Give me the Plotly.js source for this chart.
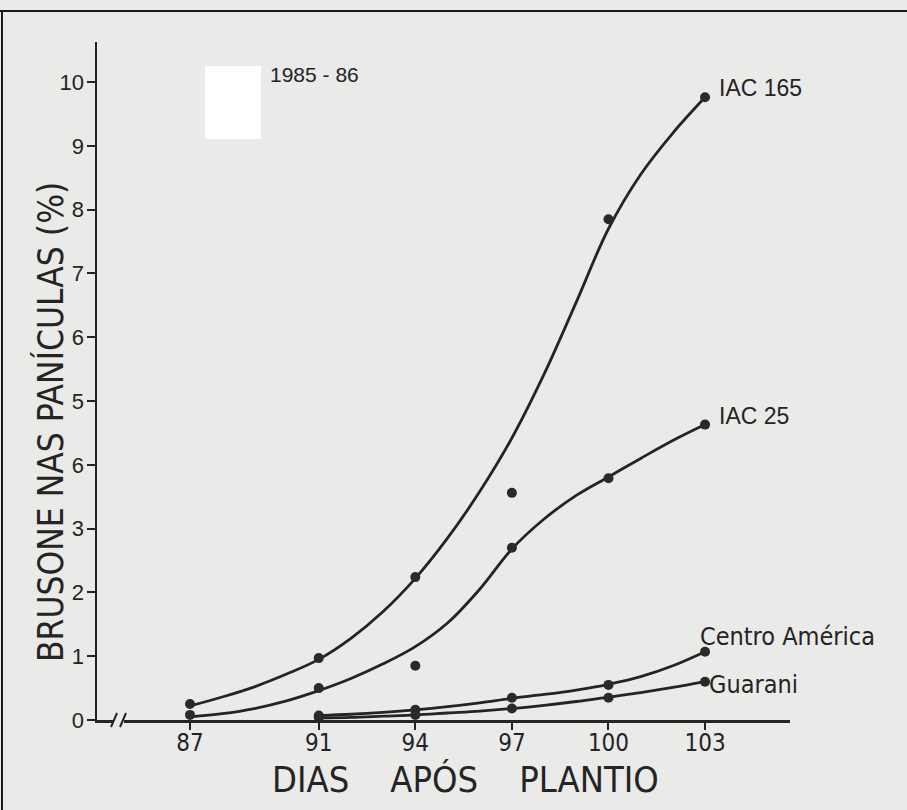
<!DOCTYPE html>
<html>
<head>
<meta charset="utf-8">
<script src="https://cdn.plot.ly/plotly-3.0.1.min.js"></script>
<style>
  html, body { margin: 0; padding: 0; background: #eaeae8; }
  #chart { width: 907px; height: 810px; }
</style>
</head>
<body>
<div id="chart"></div>
<script>
// ---- data ----
const dayTicks = [87, 91, 94, 97, 100, 103];
const yTickVals = [0, 1, 2, 3, 4, 5, 6, 7, 8, 9, 10];
const yTickText = ["0", "1", "2", "3", "6", "5", "6", "7", "8", "9", "10"];

// observed points
const iac165Days = [87, 91, 94, 97, 100, 103];
const iac165Pts  = [0.25, 0.97, 2.24, 3.56, 7.85, 9.76];
const iac25Days  = [87, 91, 94, 97, 100, 103];
const iac25Pts   = [0.08, 0.50, 0.85, 2.70, 3.79, 4.63];
const caDays     = [91, 94, 97, 100, 103];
const caPts      = [0.07, 0.16, 0.35, 0.55, 1.07];
const guaDays    = [91, 94, 97, 100, 103];
const guaPts     = [0.04, 0.08, 0.18, 0.35, 0.60];

// fitted curves as drawn in the figure, read day by day
const iac165CurveDays = [87, 88, 89, 90, 91, 92, 93, 94, 95, 96, 97, 98, 99, 100, 101, 102, 103];
const iac165Curve     = [0.22, 0.36, 0.52, 0.72, 0.95, 1.28, 1.70, 2.22, 2.85, 3.58, 4.42, 5.42, 6.55, 7.70, 8.55, 9.20, 9.76];
const iac25CurveDays  = [87, 88, 89, 90, 91, 92, 93, 94, 95, 96, 97, 98, 99, 100, 101, 102, 103];
const iac25Curve      = [0.05, 0.10, 0.18, 0.30, 0.46, 0.65, 0.88, 1.15, 1.52, 2.05, 2.68, 3.15, 3.52, 3.81, 4.10, 4.38, 4.63];
const caCurveDays     = [91, 92, 93, 94, 95, 96, 97, 98, 99, 100, 101, 102, 103];
const caCurve         = [0.07, 0.09, 0.12, 0.16, 0.21, 0.27, 0.34, 0.40, 0.47, 0.56, 0.68, 0.85, 1.07];
const guaCurveDays    = [91, 92, 93, 94, 95, 96, 97, 98, 99, 100, 101, 102, 103];
const guaCurve        = [0.03, 0.04, 0.06, 0.08, 0.11, 0.14, 0.18, 0.23, 0.29, 0.36, 0.43, 0.51, 0.60];

const seriesNames = ["IAC 165", "IAC 25", "Centro América", "Guarani"];
const periodLabel = "1985 - 86";
const xTitle = "DIAS&nbsp;&nbsp;&nbsp;&nbsp;APÓS&nbsp;&nbsp;&nbsp;&nbsp;PLANTIO";
const yTitle = "BRUSONE NAS PANÍCULAS (%)";

// ---- styling ----
const ink = "#242424";
const bg = "#eaeae8";
const narrow = "'Liberation Sans Narrow', 'DejaVu Sans Condensed', 'Roboto', sans-serif";
const plain = "'Liberation Sans', 'Roboto', sans-serif";

function curve(x, y) {
  return { x: x, y: y, type: "scatter", mode: "lines", hoverinfo: "skip", showlegend: false,
           line: { color: ink, width: 2.8, shape: "spline", smoothing: 1.0 } };
}
function pts(x, y) {
  return { x: x, y: y, type: "scatter", mode: "markers", showlegend: false,
           marker: { color: "#2a2a2a", size: 10 } };
}

const traces = [
  curve(iac165CurveDays, iac165Curve),
  curve(iac25CurveDays, iac25Curve),
  curve(caCurveDays, caCurve),
  curve(guaCurveDays, guaCurve),
  pts(iac165Days, iac165Pts),
  pts(iac25Days, iac25Pts),
  pts(caDays, caPts),
  pts(guaDays, guaPts)
];

// plot frame in pixels
const W = 907, H = 810;
const L = 97, R = 117, T = 42, B = 90;
const pw = W - L - R, ph = H - T - B;
const px = v => (v - L) / pw;          // pixel x -> paper x
const py = v => (H - B - v) / ph;      // pixel y -> paper y

const lastOf = a => a[a.length - 1];
const labelFont = { family: plain, size: 23, color: ink };
const nameFont = { family: narrow, size: 25, color: ink };

const annotations = [
  { x: lastOf(iac165Days), y: lastOf(iac165Pts), text: seriesNames[0], xanchor: "left", yanchor: "middle",
    xshift: 12, yshift: 9, showarrow: false, font: labelFont },
  { x: lastOf(iac25Days), y: lastOf(iac25Pts), text: seriesNames[1], xanchor: "left", yanchor: "middle",
    xshift: 12, yshift: 9, showarrow: false, font: labelFont },
  { x: lastOf(caDays), y: lastOf(caPts), text: seriesNames[2], xanchor: "left", yanchor: "middle",
    xshift: -7, yshift: 15, showarrow: false, font: nameFont },
  { x: lastOf(guaDays), y: lastOf(guaPts), text: seriesNames[3], xanchor: "left", yanchor: "middle",
    xshift: 2, yshift: -3, showarrow: false, font: nameFont },
  { xref: "paper", yref: "paper", x: px(268), y: py(74), text: periodLabel, xanchor: "left", yanchor: "middle",
    showarrow: false, font: { family: plain, size: 21, color: ink } },
  // axis titles
  { xref: "paper", yref: "paper", x: px(465), y: py(780), text: xTitle, xanchor: "center", yanchor: "middle",
    showarrow: false, font: { family: narrow, size: 36, color: ink } },
  { xref: "paper", yref: "paper", x: px(50), y: py(422), text: yTitle, textangle: -90,
    xanchor: "center", yanchor: "middle", showarrow: false, font: { family: narrow, size: 35, color: ink } }
];

const shapes = [
  // white patch in the original
  { type: "rect", xref: "paper", yref: "paper", x0: px(205), x1: px(261), y0: py(139), y1: py(66),
    fillcolor: "#ffffff", line: { width: 0 }, layer: "above" },
  // axis break
  { type: "rect", xref: "paper", yref: "paper", x0: px(113), x1: px(124), y0: py(724), y1: py(716),
    fillcolor: bg, line: { width: 0 }, layer: "above" },
  { type: "line", xref: "paper", yref: "paper", x0: px(111), x1: px(117), y0: py(727), y1: py(713),
    line: { color: ink, width: 2 }, layer: "above" },
  { type: "line", xref: "paper", yref: "paper", x0: px(120), x1: px(126), y0: py(727), y1: py(713),
    line: { color: ink, width: 2 }, layer: "above" },
  // page frame lines of the scan
  { type: "line", xref: "paper", yref: "paper", x0: px(0), x1: px(907), y0: py(11), y1: py(11),
    line: { color: "#1a1a1a", width: 2 } },
  { type: "line", xref: "paper", yref: "paper", x0: px(2), x1: px(2), y0: py(11), y1: py(810),
    line: { color: "#1a1a1a", width: 2 } }
];

const layout = {
  width: W, height: H,
  paper_bgcolor: bg, plot_bgcolor: bg,
  margin: { l: L, r: R, t: T, b: B },
  showlegend: false,
  xaxis: {
    range: [87 - (190 - L) / 32.19, 87 + (790 - 190) / 32.19],
    tickvals: dayTicks, ticktext: dayTicks.map(String),
    ticks: "outside", ticklen: 7, tickwidth: 2, tickcolor: ink,
    ticklabelstandoff: -7,
    showline: true, linecolor: ink, linewidth: 2.5,
    showgrid: false, zeroline: false,
    tickfont: { family: narrow, size: 24, color: ink }
  },
  yaxis: {
    range: [0, (720 - T) / 63.8],
    tickvals: yTickVals, ticktext: yTickText,
    ticks: "outside", ticklen: 8, tickwidth: 2, tickcolor: ink,
    ticklabelstandoff: -2,
    showline: true, linecolor: ink, linewidth: 2.5,
    showgrid: false, zeroline: false,
    tickfont: { family: plain, size: 22, color: ink }
  },
  annotations: annotations,
  shapes: shapes
};

Plotly.newPlot("chart", traces, layout, { displayModeBar: false, staticPlot: true });
</script>
</body>
</html>
